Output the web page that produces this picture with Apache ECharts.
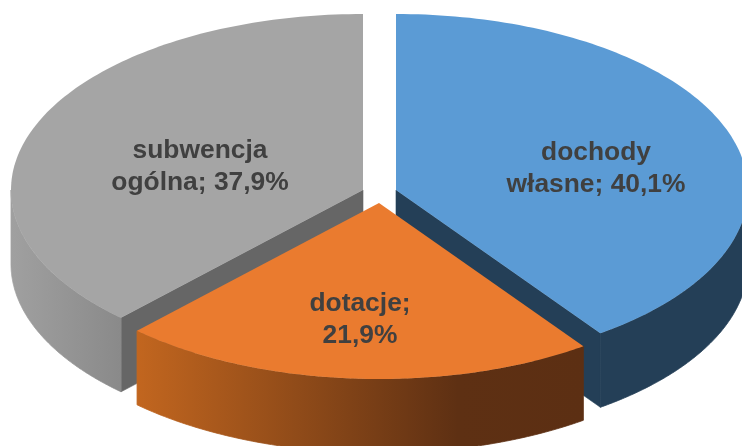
<!DOCTYPE html>
<html>
<head>
<meta charset="utf-8">
<style>html,body{margin:0;padding:0;background:#fff}#c{width:742px;height:446px}</style>
<script src="https://cdn.jsdelivr.net/npm/echarts@6/dist/echarts.min.js"></script>
</head>
<body>
<div id="c"></div>
<script>
// Data
var categories = ['dochody własne', 'dotacje', 'subwencja ogólna'];
var shares = [40.1, 21.9, 37.9];
var labelLines = [['dochody', 'własne; 40,1%'], ['dotacje;', '21,9%'], ['subwencja', 'ogólna; 37,9%']];

// Styling / layout
var topColors = ['#5b9bd5', '#ea7b2f', '#a5a5a5'];
var wallColors = ['#243f57', null, '#666666'];
var apexes = [[396, 190], [379, 203], [363, 190]];
var labelCenters = [[596, 169], [360, 320], [200, 167]];
var layerOrder = [2, 3, 1];
var RX = 352, RY = 176, DEPTH = 74;
var sideStops = [
  [{offset: 0, color: '#243f57'}, {offset: 1, color: '#243f57'}],
  [{offset: 0, color: '#c2661f'}, {offset: 0.72, color: '#5e3013'}, {offset: 1, color: '#5c2f13'}],
  [{offset: 0, color: '#a0a0a0'}, {offset: 1, color: '#878787'}]
];
var sideExtent = [[396, 748], [136, 583], [11, 135]];

var total = shares.reduce(function (a, b) { return a + b; }, 0);
var starts = [];
shares.reduce(function (acc, v, i) { starts[i] = acc; return acc + v; }, 0);

function angle(v) { return echarts.number.linearMap(v, [0, total], [0, Math.PI * 2]); }
function rim(apex, a, dy) {
  return [apex[0] + RX * Math.sin(a), apex[1] - RY * Math.cos(a) + (dy || 0)];
}
function arc(apex, a0, a1, dy) {
  var pts = [], n = 120;
  for (var k = 0; k <= n; k++) pts.push(rim(apex, a0 + (a1 - a0) * k / n, dy));
  return pts;
}

function renderItem(params, api) {
  var i = params.dataIndex;
  var apex = apexes[i];
  var a0 = angle(api.value(1));
  var a1 = a0 + angle(api.value(2));
  var z = layerOrder[i] * 10;
  var children = [];

  // inner cut wall
  if (wallColors[i]) {
    var ea = i === 0 ? a1 : a0;
    var e = rim(apex, ea, 0);
    children.push({
      type: 'polygon', z2: z,
      shape: {points: [apex, e, [e[0], e[1] + DEPTH], [apex[0], apex[1] + DEPTH]]},
      style: {fill: wallColors[i], stroke: wallColors[i], lineWidth: 0.6}
    });
  }
  // outer side, only the part that faces the viewer
  var s0 = Math.max(a0, Math.PI / 2), s1 = Math.min(a1, Math.PI * 1.5);
  if (s1 > s0) {
    var side = arc(apex, s0, s1, 0).concat(arc(apex, s0, s1, DEPTH).reverse());
    var grad = new echarts.graphic.LinearGradient(sideExtent[i][0], 0, sideExtent[i][1], 0, sideStops[i], true);
    children.push({
      type: 'polygon', z2: z + 1,
      shape: {points: side},
      style: {fill: grad, stroke: grad, lineWidth: 0.8}
    });
  }
  // top face
  children.push({
    type: 'polygon', z2: z + 2,
    shape: {points: [apex].concat(arc(apex, a0, a1, 0))},
    style: {fill: topColors[i]}
  });
  // label
  children.push({
    type: 'text', z2: 100,
    x: labelCenters[i][0], y: labelCenters[i][1],
    style: {
      text: labelLines[i].join('\n'),
      align: 'center', verticalAlign: 'middle',
      fill: '#404040',
      font: 'bold 26.4px "Liberation Sans", Arial, sans-serif',
      lineHeight: 32
    }
  });
  return {type: 'group', children: children};
}

var chart = echarts.init(document.getElementById('c'), null, {renderer: 'canvas'});
chart.setOption({
  animation: false,
  backgroundColor: '#ffffff',
  series: [{
    type: 'custom',
    coordinateSystem: 'none',
    silent: true,
    clip: false,
    renderItem: renderItem,
    data: categories.map(function (c, i) { return [c, starts[i], shares[i]]; })
  }]
});
</script>
</body>
</html>
